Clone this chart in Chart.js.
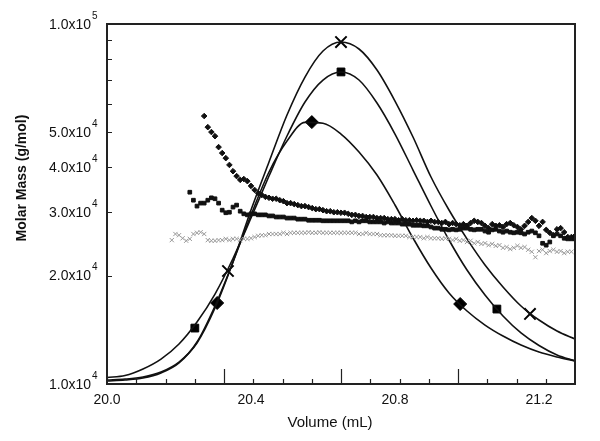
<!DOCTYPE html>
<html>
<head>
<meta charset="utf-8">
<script src="https://cdn.jsdelivr.net/npm/chart.js@4.4.0/dist/chart.umd.min.js"></script>
<style>
  html, body { margin: 0; padding: 0; background: #fff; }
</style>
</head>
<body>
<canvas id="myChart" width="600" height="441"></canvas>
<script>
// elution volume grid for the three detector traces (mL)
var volume = [20.00, 20.05, 20.10, 20.15, 20.20, 20.25, 20.30, 20.35, 20.40, 20.45,
  20.50, 20.55, 20.60, 20.65, 20.70, 20.75, 20.80, 20.85, 20.90, 20.95,
  21.00, 21.05, 21.10, 21.15, 21.20, 21.25, 21.30];

var traceCross = [10260, 10320, 10460, 10800, 11510, 13000, 16260, 21820, 30430, 41370,
  55870, 71240, 84130, 89120, 85220, 74510, 61100, 48540, 37580, 30430,
  25300, 21410, 18600, 16470, 15060, 14040, 13340];
var traceSquare = [10420, 10560, 11010, 11730, 12920, 14870, 17780, 22320, 28910, 37820,
  48850, 60710, 69890, 73560, 69890, 60330, 49480, 39300, 31220, 25120,
  20730, 17670, 15450, 13860, 12790, 12040, 11590];
var traceDiamond = [10190, 10260, 10390, 10730, 11440, 13080, 16470, 21820, 29470, 38800,
  47310, 53300, 53000, 49480, 44100, 38060, 31420, 25440, 21000, 17900,
  15950, 14580, 13590, 12830, 12270, 11890, 11590];

// big symbols sitting on the traces
var markCrossVol = [20.336, 20.65, 21.175];
var markCrossVal = [20600, 89100, 15650];
var markSquareVol = [20.244, 20.65, 21.083];
var markSquareVal = [14300, 73600, 16150];
var markDiamondVol = [20.306, 20.569, 20.981];
var markDiamondVal = [16790, 53400, 16680];

// molar mass slices, one every 0.01 mL
var sliceStep = 0.01;
var diamondStart = 20.27;
var massDiamond = [55500, 51700, 50100, 48800, 45500, 43800, 42400, 40600, 39000, 37800,
  36900, 37100, 36600, 35500, 34600, 33900, 33500, 33100, 32900, 32700,
  32700, 32400, 32200, 31800, 31800, 31600, 31400, 31200, 31200, 31000,
  30800, 30600, 30600, 30400, 30200, 30200, 30000, 30000, 29900, 29900,
  29700, 29500, 29500, 29300, 29300, 29100, 29100, 29100, 28900, 28900,
  28900, 28700, 28700, 28700, 28500, 28700, 28500, 28500, 28400, 28500,
  28400, 28400, 28200, 28400, 28200, 28200, 28000, 28200, 27800, 28000,
  27800, 27600, 27800, 27500, 28000, 28400, 28200, 28000, 27500, 27100,
  27800, 27500, 27600, 27300, 27800, 28000, 27600, 27300, 26900, 27500,
  28200, 28900, 28400, 27500, 28200, 26800, 26300, 25900, 26900, 27100,
  26400, 25600, 25600, 25800];
var squareStart = 20.23;
var massSquare = [34100, 32400, 31200, 31800, 31800, 32400, 32900, 32700, 31800, 30400,
  29900, 30000, 31000, 31400, 30200, 29700, 29500, 29700, 29700, 29500,
  29500, 29500, 29300, 29300, 29100, 29100, 29100, 28900, 28900, 28900,
  28700, 28700, 28700, 28500, 28500, 28500, 28500, 28400, 28400, 28400,
  28400, 28400, 28400, 28400, 28400, 28200, 28400, 28200, 28400, 28400,
  28200, 28200, 28200, 28200, 28000, 28200, 28000, 28000, 28000, 27800,
  27800, 27800, 27600, 27600, 27600, 27500, 27500, 27300, 27100, 27100,
  26900, 26900, 26800, 26900, 26800, 26900, 27100, 27100, 26900, 26800,
  26900, 26900, 26600, 26400, 26800, 26900, 26600, 26400, 26600, 26400,
  26300, 26400, 26300, 26100, 26400, 26600, 26300, 25800, 24600, 24300,
  24800, 25800, 26100, 25800, 25400, 25300, 25300, 25300];
var crossStart = 20.18;
var massCross = [25100, 26100, 25900, 25400, 25000, 25300, 26100, 26300, 26400, 26100,
  25100, 25000, 25000, 25100, 25100, 25300, 25100, 25300, 25300, 25100,
  25300, 25300, 25400, 25600, 25800, 25900, 25900, 26100, 26100, 26100,
  26100, 26300, 26100, 26300, 26300, 26300, 26300, 26300, 26400, 26300,
  26300, 26400, 26300, 26300, 26300, 26300, 26300, 26300, 26300, 26300,
  26300, 26300, 26100, 26100, 26300, 26100, 26100, 26100, 25900, 25900,
  25900, 25900, 25800, 25800, 25800, 25800, 25600, 25600, 25600, 25600,
  25400, 25600, 25400, 25400, 25400, 25300, 25400, 25300, 25100, 25300,
  25000, 25100, 24800, 25000, 24600, 24800, 24500, 24600, 24300, 24500,
  24200, 24300, 23900, 24000, 23700, 23900, 24200, 23900, 24000, 23600,
  23300, 22500, 23400, 23600, 23100, 23400, 23600, 23300, 23400, 23100,
  23300, 23300];

var xTickValues = [20.0, 20.4, 20.8, 21.2];
var yTickValues = [1e4, 2e4, 3e4, 4e4, 5e4, 1e5];
var yMinorValues = [6e4, 7e4, 8e4, 9e4];

var FONT = '"Liberation Sans", Arial, Helvetica, sans-serif';

function pairs(xs, ys) {
  var out = [];
  for (var i = 0; i < xs.length; i++) out.push({ x: xs[i], y: ys[i] });
  return out;
}

function slices(start, values) {
  var out = [];
  for (var i = 0; i < values.length; i++) {
    out.push({ x: +(start + i * sliceStep).toFixed(3), y: values[i] });
  }
  return out;
}

function trace(values) {
  return {
    data: pairs(volume, values),
    showLine: true,
    borderColor: '#111',
    borderWidth: 1.6,
    pointRadius: 0,
    cubicInterpolationMode: 'monotone',
    fill: false
  };
}

function marker(xs, ys, style, radius) {
  return {
    data: pairs(xs, ys),
    showLine: false,
    pointStyle: style,
    pointRadius: radius,
    pointBackgroundColor: '#000',
    pointBorderColor: '#000',
    pointBorderWidth: style == 'crossRot' ? 2 : 1
  };
}

function dots(data, style, radius, color, bw) {
  return {
    data: data,
    showLine: false,
    pointStyle: style,
    pointRadius: radius,
    pointBackgroundColor: color,
    pointBorderColor: color,
    pointBorderWidth: bw
  };
}

// frame, inward tick marks, y labels with exponents, axis titles
var decor = {
  id: 'decor',
  afterDraw: function (chart) {
    var ctx = chart.ctx;
    var area = chart.chartArea;
    var ys = chart.scales.y;
    ctx.save();
    ctx.strokeStyle = '#222';
    ctx.lineWidth = 1.2;
    ctx.beginPath();
    for (var i = 1; i < 16; i++) {
      var px = Math.round(area.left + (area.right - area.left) * i / 16) + 0.5;
      var len = (i % 4 == 0) ? 15 : 5;
      ctx.moveTo(px, area.bottom);
      ctx.lineTo(px, area.bottom - len);
    }
    var allY = yTickValues.concat(yMinorValues);
    for (var j = 0; j < allY.length; j++) {
      var py = Math.round(ys.getPixelForValue(allY[j])) + 0.5;
      ctx.moveTo(area.left, py);
      ctx.lineTo(area.left + 5, py);
    }
    ctx.stroke();

    ctx.lineWidth = 2;
    ctx.strokeRect(area.left, area.top, area.right - area.left, area.bottom - area.top);

    ctx.fillStyle = '#111';
    ctx.textBaseline = 'middle';
    for (var k = 0; k < yTickValues.length; k++) {
      var v = yTickValues[k];
      var p = Math.floor(Math.log10(v) + 1e-9);
      var m = (v / Math.pow(10, p)).toFixed(1);
      var y = ys.getPixelForValue(v);
      ctx.font = '14px ' + FONT;
      ctx.textAlign = 'right';
      ctx.fillText(m + 'x10', area.left - 16, y + 1);
      ctx.font = '10px ' + FONT;
      ctx.textAlign = 'left';
      ctx.fillText(String(p), area.left - 15, y - 8);
    }

    ctx.font = 'bold 14px ' + FONT;
    ctx.textAlign = 'center';
    ctx.save();
    ctx.translate(22, 178);
    ctx.rotate(-Math.PI / 2);
    ctx.fillText('Molar Mass (g/mol)', 0, 0);
    ctx.restore();

    ctx.font = '15px ' + FONT;
    ctx.fillText('Volume (mL)', 330, 423);
    ctx.restore();
  }
};

var config = {
  type: 'scatter',
  data: {
    datasets: [
      dots(slices(crossStart, massCross), 'crossRot', 3, '#999', 1),
      dots(slices(squareStart, massSquare), 'rect', 2.6, '#111', 1),
      dots(slices(diamondStart, massDiamond), 'rectRot', 2.8, '#111', 1),
      trace(traceCross),
      trace(traceSquare),
      trace(traceDiamond),
      marker(markCrossVol, markCrossVal, 'crossRot', 8),
      marker(markSquareVol, markSquareVal, 'rect', 5.5),
      marker(markDiamondVol, markDiamondVal, 'rectRot', 6.5)
    ]
  },
  options: {
    responsive: false,
    animation: false,
    devicePixelRatio: 1,
    layout: { padding: { top: 24, right: 25, left: 0, bottom: 0 } },
    plugins: {
      legend: { display: false },
      tooltip: { enabled: false }
    },
    scales: {
      x: {
        type: 'linear',
        min: 20,
        max: 21.3,
        afterBuildTicks: function (s) {
          s.ticks = xTickValues.map(function (v) { return { value: v }; });
        },
        ticks: {
          callback: function (v) { return Number(v).toFixed(1); },
          font: { size: 14, family: FONT },
          color: '#111',
          padding: 8,
          maxRotation: 0,
          autoSkip: false
        },
        grid: { display: false, drawTicks: false },
        border: { display: false },
        afterFit: function (s) { s.height = 57; }
      },
      y: {
        type: 'logarithmic',
        min: 1e4,
        max: 1e5,
        ticks: { display: false },
        grid: { display: false, drawTicks: false },
        border: { display: false },
        afterFit: function (s) { s.width = 107; }
      }
    }
  },
  plugins: [decor]
};

const myChart = new Chart(document.getElementById('myChart'), config);
</script>
</body>
</html>
